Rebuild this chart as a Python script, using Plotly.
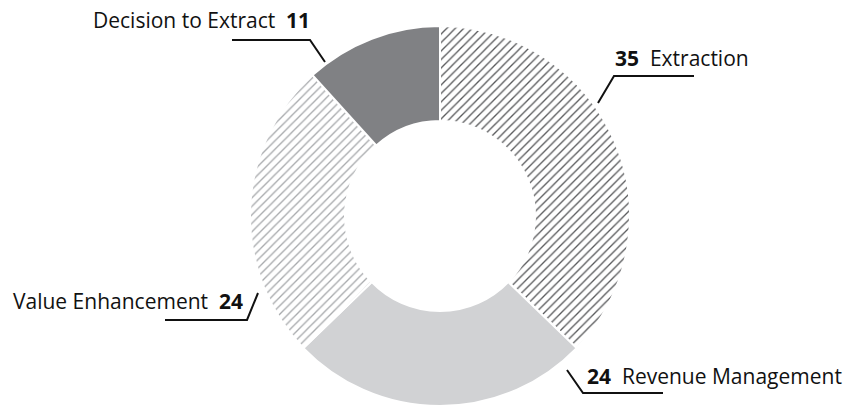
import plotly.graph_objects as go

# Slice data (clockwise from 12 o'clock)
labels = ["Extraction", "Revenue Management", "Value Enhancement", "Decision to Extract"]
values = [35, 24, 24, 11]

W, H = 848, 408
CX, CY, R = 440, 216, 190  # donut centre / radius in pixels

fills = ["#ffffff", "#d1d2d4", "#ffffff", "#808184"]
pat_shapes = ["/", "", "/", ""]
pat_fg = ["#58595b", "#d1d2d4", "#a7a9ac", "#808184"]

fig = go.Figure(go.Pie(
    labels=labels,
    values=values,
    hole=0.5,
    sort=False,
    direction="clockwise",
    rotation=0,
    textinfo="none",
    hoverinfo="label+value",
    marker=dict(
        colors=fills,
        line=dict(color="#ffffff", width=2),
        pattern=dict(shape=pat_shapes, fgcolor=pat_fg, bgcolor=fills,
                     size=6, solidity=0.22),
    ),
    domain=dict(x=[(CX - R) / W, (CX + R) / W],
                y=[(H - CY - R) / H, (H - CY + R) / H]),
    showlegend=False,
))


def px(x, y):
    return x / W, 1 - y / H


# Leader lines: slice anchor, elbow, line end (pixels)
leaders = [
    # Extraction
    dict(anchor=(598, 103), elbow=(614, 76), end=(694, 76)),
    # Revenue Management
    dict(anchor=(567, 370), elbow=(583, 393), end=(663, 393)),
    # Value Enhancement
    dict(anchor=(258, 293), elbow=(247, 320), end=(165, 320)),
    # Decision to Extract
    dict(anchor=(325, 62), elbow=(310, 40), end=(232, 40)),
]

shapes = []
for ld in leaders:
    pts = [ld["anchor"], ld["elbow"], ld["end"]]
    path = "M " + " L ".join(f"{px(*p)[0]},{px(*p)[1]}" for p in pts)
    shapes.append(dict(type="path", xref="paper", yref="paper", path=path,
                       line=dict(color="#111111", width=2)))

sp = "\u00a0\u00a0"
annotations = []
lab_pos = [
    (613, 58, "left", f"<b>{values[0]}</b>{sp}{labels[0]}"),
    (585, 376, "left", f"<b>{values[1]}</b>{sp}{labels[1]}"),
    (245, 301, "right", f"{labels[2]}{sp}<b>{values[2]}</b>"),
    (312, 20, "right", f"{labels[3]}{sp}<b>{values[3]}</b>"),
]
for x, y, anchor, txt in lab_pos:
    xp, yp = px(x, y)
    annotations.append(dict(x=xp, y=yp, xref="paper", yref="paper",
                            text=txt, showarrow=False, xanchor=anchor,
                            yanchor="middle",
                            font=dict(family="Open Sans", size=21, color="#111111")))

fig.update_layout(
    width=W, height=H,
    margin=dict(l=0, r=0, t=0, b=0),
    paper_bgcolor="#ffffff",
    plot_bgcolor="#ffffff",
    shapes=shapes,
    annotations=annotations,
)

fig.write_html("out.html")
